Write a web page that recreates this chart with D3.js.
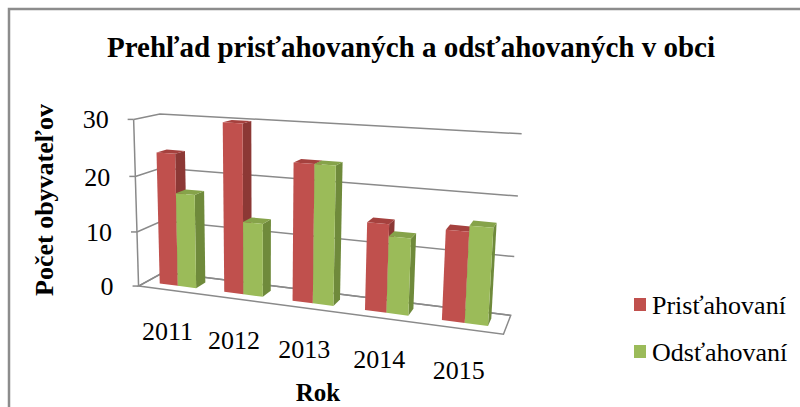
<!DOCTYPE html>
<html>
<head>
<meta charset="utf-8">
<script src="https://cdn.jsdelivr.net/npm/d3@7"></script>
<style>
  body { margin: 0; background: #fff; }
</style>
</head>
<body>
<svg id="chart" width="800" height="407"></svg>
<script>
// data
var years = ["2011", "2012", "2013", "2014", "2015"];
var seriesNames = ["Prisťahovaní", "Odsťahovaní"];
var pristahovani = [24, 30, 24, 15, 15];
var odstahovani = [17, 13, 24, 13, 16];
var valueTicks = [0, 10, 20, 30];

var frontColors = ["#C0504D", "#9BBB59"];
var sideColors = ["#8C3835", "#6F8A3B"];
var topColors = ["#A5413E", "#86A34A"];

var serif = "'Liberation Serif', 'DejaVu Serif', serif";

var svg = d3.select("#chart");

// scales in "world" units: u across categories, v up, w into depth
var x0 = d3.scaleBand().domain(years).range([0, 1]);
var x1 = d3.scaleBand().domain(seriesNames).range([0, x0.bandwidth()]).paddingOuter(0.75);
var y = d3.scaleLinear().domain([0, 30]).range([0, 1]);
var barDepth = [0.3, 0.7];

// the plot box as it sits in the picture -> fit a perspective camera to it
var frame = [
  [0, 0, 0, 139, 285], [0, 1, 0, 133, 120], [0, 2/3, 0, 135, 177], [0, 1/3, 0, 137, 232],
  [0, 0, 1, 163, 273], [0, 1, 1, 161, 113],
  [1, 0, 1, 511, 315], [1, 1, 1, 522, 133], [1, 2/3, 1, 517, 197], [1, 1/3, 1, 514, 257],
  [1, 0, 0, 504, 334]
];

function fitCamera(pts) {
  var n = 11, M = [];
  for (var i = 0; i < n; i++) M.push(new Array(n + 1).fill(0));
  pts.forEach(function(p) {
    var X = p[0], Y = p[1], Z = p[2], sx = (p[3] - 300) / 100, sy = (p[4] - 200) / 100;
    var rows = [[X, Y, Z, 1, 0, 0, 0, 0, -sx * X, -sx * Y, -sx * Z, sx],
                [0, 0, 0, 0, X, Y, Z, 1, -sy * X, -sy * Y, -sy * Z, sy]];
    rows.forEach(function(r) {
      for (var a = 0; a < n; a++) {
        for (var b = 0; b < n; b++) M[a][b] += r[a] * r[b];
        M[a][n] += r[a] * r[n];
      }
    });
  });
  for (var c = 0; c < n; c++) {
    var piv = c;
    for (var r = c + 1; r < n; r++) if (Math.abs(M[r][c]) > Math.abs(M[piv][c])) piv = r;
    var tmp = M[c]; M[c] = M[piv]; M[piv] = tmp;
    for (var r2 = 0; r2 < n; r2++) {
      if (r2 === c) continue;
      var f = M[r2][c] / M[c][c];
      for (var k = c; k <= n; k++) M[r2][k] -= f * M[c][k];
    }
  }
  return M.map(function(row, i) { return row[n] / row[i]; });
}

var P = fitCamera(frame);

function project(u, v, w) {
  var d = P[8] * u + P[9] * v + P[10] * w + 1;
  var sx = (P[0] * u + P[1] * v + P[2] * w + P[3]) / d;
  var sy = (P[4] * u + P[5] * v + P[6] * w + P[7]) / d;
  return [sx * 100 + 300, sy * 100 + 200];
}

var line = d3.line();

// frame border
svg.append("rect")
   .attr("x", 9).attr("y", 9)
   .attr("width", 810).attr("height", 420)
   .attr("fill", "none")
   .attr("stroke", "#8c8c8c")
   .attr("stroke-width", 2.5);

// title
svg.append("text")
   .attr("x", 411).attr("y", 57)
   .attr("text-anchor", "middle")
   .attr("font-family", serif)
   .attr("font-size", 29)
   .attr("font-weight", "bold")
   .text("Prehľad prisťahovaných a odsťahovaných v obci");

var grid = svg.append("g").attr("id", "grid");

// side wall + back wall gridlines
valueTicks.forEach(function(t) {
  var v = y(t);
  grid.append("path")
      .attr("d", line([project(0, v, 0), project(0, v, 1), project(1, v, 1)]))
      .attr("fill", "none")
      .attr("stroke", "#8a8a8a")
      .attr("stroke-width", 1.5);
});

// floor outline
grid.append("path")
    .attr("d", line([project(0, 0, 0), project(1, 0, 0), project(1, 0, 1), project(0, 0, 1)]) + "Z")
    .attr("fill", "none")
    .attr("stroke", "#8a8a8a")
    .attr("stroke-width", 1.5);

// value axis
grid.append("path")
    .attr("d", line([project(0, 0, 0), project(0, 1, 0)]))
    .attr("stroke", "#8a8a8a")
    .attr("stroke-width", 1.5);

valueTicks.forEach(function(t) {
  var p = project(0, y(t), 0);
  grid.append("line")
      .attr("x1", p[0] - 6).attr("y1", p[1])
      .attr("x2", p[0]).attr("y2", p[1])
      .attr("stroke", "#8a8a8a")
      .attr("stroke-width", 1.5);
  grid.append("text")
      .attr("x", p[0] - 25).attr("y", p[1])
      .attr("dy", "0.35em")
      .attr("text-anchor", "end")
      .attr("font-family", serif)
      .attr("font-size", 26)
      .text(t);
});

// bars
var bars = svg.append("g").attr("id", "bars");
var barData = [];
years.forEach(function(yr, i) {
  [pristahovani[i], odstahovani[i]].forEach(function(val, s) {
    barData.push({ year: yr, series: s, value: val });
  });
});

barData.forEach(function(d) {
  var ua = x0(d.year) + x1(seriesNames[d.series]);
  var ub = ua + x1.bandwidth();
  var v = y(d.value);
  var za = barDepth[0], zb = barDepth[1];
  var g = bars.append("g");
  // right side
  g.append("path")
   .attr("d", line([project(ub, 0, za), project(ub, 0, zb), project(ub, v, zb), project(ub, v, za)]) + "Z")
   .attr("fill", sideColors[d.series]);
  // top
  g.append("path")
   .attr("d", line([project(ua, v, za), project(ub, v, za), project(ub, v, zb), project(ua, v, zb)]) + "Z")
   .attr("fill", topColors[d.series]);
  // front
  g.append("path")
   .attr("d", line([project(ua, 0, za), project(ub, 0, za), project(ub, v, za), project(ua, v, za)]) + "Z")
   .attr("fill", frontColors[d.series]);
});

// category labels
years.forEach(function(yr) {
  var p = project(x0(yr) + x0.bandwidth() / 2, 0, 0);
  svg.append("text")
     .attr("x", p[0] - 3).attr("y", p[1] + 41)
     .attr("dy", "0.35em")
     .attr("text-anchor", "middle")
     .attr("font-family", serif)
     .attr("font-size", 26)
     .text(yr);
});

// axis titles
svg.append("text")
   .attr("transform", "translate(53,200) rotate(-90)")
   .attr("text-anchor", "middle")
   .attr("font-family", serif)
   .attr("font-size", 26)
   .attr("font-weight", "bold")
   .text("Počet obyvateľov");

svg.append("text")
   .attr("x", 318).attr("y", 401)
   .attr("text-anchor", "middle")
   .attr("font-family", serif)
   .attr("font-size", 25)
   .attr("font-weight", "bold")
   .text("Rok");

// legend
var legend = svg.append("g").attr("transform", "translate(634,298)");
seriesNames.forEach(function(name, i) {
  legend.append("rect")
        .attr("x", 0).attr("y", i * 47)
        .attr("width", 12).attr("height", 13)
        .attr("fill", frontColors[i]);
  legend.append("text")
        .attr("x", 18).attr("y", i * 47 + 7)
        .attr("dy", "0.35em")
        .attr("font-family", serif)
        .attr("font-size", 26)
        .text(name);
});
</script>
</body>
</html>
